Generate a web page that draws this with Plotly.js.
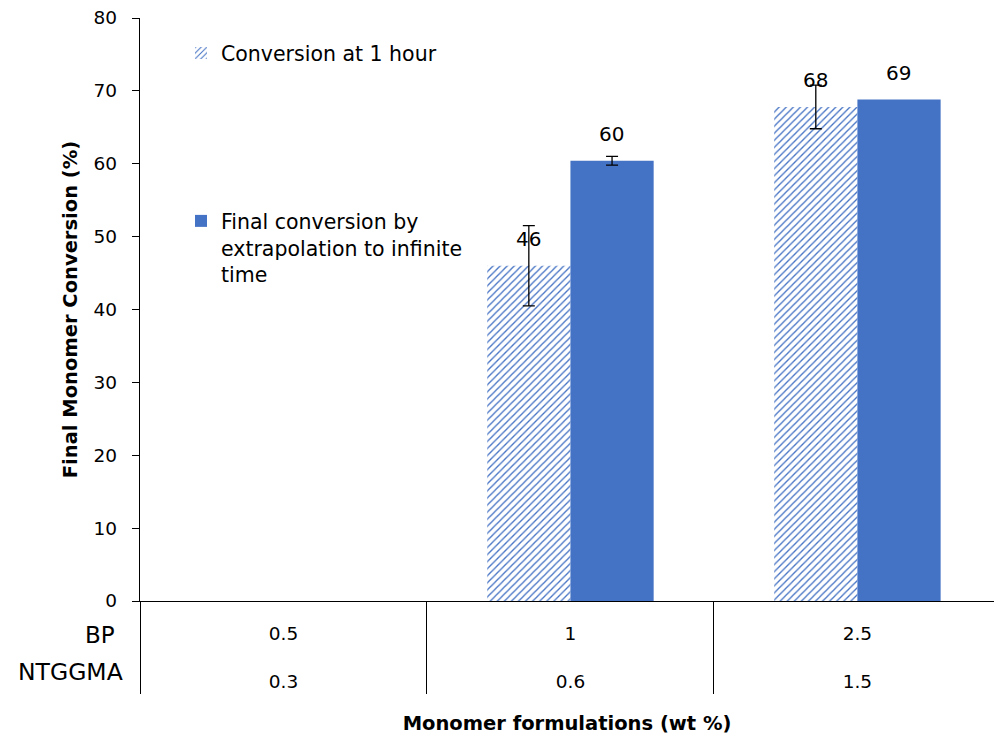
<!DOCTYPE html>
<html><head><meta charset="utf-8">
<script src="https://cdn.plot.ly/plotly-3.0.1.min.js"></script>
<style>html,body{margin:0;padding:0;overflow:hidden;background:#fff}</style>
</head><body><div id="chart" style="width:994px;height:738px"></div>
<script>
// ---- data ----
const categories = ['0.5 / 0.3', '1 / 0.6', '2.5 / 1.5'];
const bpLevels = ['0.5', '1', '2.5'];
const ntggmaLevels = ['0.3', '0.6', '1.5'];
const rowLabels = ['BP', 'NTGGMA'];
const conv1h = [null, 46, 67.8];
const conv1hErr = [null, 5.5, 3.0];
const convFinal = [null, 60.4, 68.8];
const convFinalErr = [null, 0.6, null];
const seriesNames = ['Conversion at 1 hour', 'Final conversion by<br>extrapolation to infinite<br>time'];
const yTicks = [0, 10, 20, 30, 40, 50, 60, 70, 80];

const FONT = '"DejaVu Sans", Verdana, sans-serif';
const BLUE = '#4472C4';

const tickText = categories.map((c, i) => bpLevels[i] + '<br><br>' + ntggmaLevels[i]);
// missing error values -> NaN so that no error bar is drawn
const errArr = a => a.map(v => (v === null ? NaN : v));

const traces = [
  {
    type: 'bar', x: categories, y: conv1h, name: seriesNames[0], legend: 'legend',
    marker: { color: BLUE, line: { width: 0 },
      pattern: { shape: '/', fgcolor: BLUE, bgcolor: 'white', size: 5, solidity: 0.26 } },
    error_y: { type: 'data', array: errArr(conv1hErr), visible: true, color: '#000', thickness: 1.3, width: 6 },
    hoverinfo: 'x+y'
  },
  {
    type: 'bar', x: categories, y: convFinal, name: seriesNames[1], legend: 'legend2',
    marker: { color: BLUE, line: { width: 0 } },
    error_y: { type: 'data', array: errArr(convFinalErr), visible: true, color: '#000', thickness: 1.3, width: 6 },
    hoverinfo: 'x+y'
  }
];

const annotations = [];
[[conv1h, -41.5], [convFinal, 41.5]].forEach(([vals, shift]) => {
  vals.forEach((v, i) => {
    if (v === null) return;
    annotations.push({ x: categories[i], y: v, xref: 'x', yref: 'y', text: String(Math.round(v)),
      showarrow: false, xshift: shift, yshift: 27, yanchor: 'middle',
      font: { family: FONT, size: 20, color: '#000' } });
  });
});
annotations.push({ xref: 'paper', yref: 'paper', x: -0.027, y: -0.058, xanchor: 'right', yanchor: 'middle',
  text: rowLabels[0], showarrow: false, font: { family: FONT, size: 23, color: '#000' } });
annotations.push({ xref: 'paper', yref: 'paper', x: -0.017, y: -0.122, xanchor: 'right', yanchor: 'middle',
  text: rowLabels[1], showarrow: false, font: { family: FONT, size: 23.5, color: '#000' } });

const layout = {
  width: 994, height: 738,
  margin: { l: 140, r: 0, t: 18, b: 137 },
  paper_bgcolor: '#fff', plot_bgcolor: '#fff',
  font: { family: FONT, color: '#000' },
  barmode: 'group', bargap: 0.42, bargroupgap: 0,
  xaxis: {
    type: 'category', range: [-0.5, 2.476],
    tickvals: categories, ticktext: tickText,
    tickson: 'boundaries', ticks: 'outside', ticklen: 92, tickcolor: '#000', tickwidth: 1.3,
    ticklabelstandoff: 16,
    tickfont: { family: FONT, size: 18.5, color: '#000' },
    showline: true, linecolor: '#000', linewidth: 1.3, showgrid: false, zeroline: false,
    title: { text: '<b>Monomer formulations (wt %)</b>', font: { family: FONT, size: 19.5, color: '#000' }, standoff: 24 },
    automargin: false
  },
  yaxis: {
    range: [0, 80], tickvals: yTicks, ticks: 'outside', ticklen: 7, tickcolor: '#000', tickwidth: 1.3,
    tickfont: { family: FONT, size: 18.5, color: '#000' }, ticklabelstandoff: 11,
    showline: true, linecolor: '#000', linewidth: 1.3, showgrid: false, zeroline: false,
    title: { text: '<b>Final Monomer Conversion (%)</b>', font: { family: FONT, size: 19.5, color: '#000' }, standoff: 10 },
    automargin: false
  },
  legend: { x: 0.048, y: 0.974, xanchor: 'left', yanchor: 'top', bgcolor: 'rgba(0,0,0,0)',
    font: { family: FONT, size: 20.5, color: '#000' } },
  legend2: { x: 0.048, y: 0.686, xanchor: 'left', yanchor: 'top', bgcolor: 'rgba(0,0,0,0)', valign: 'top',
    font: { family: FONT, size: 20.5, color: '#000' } },
  annotations: annotations,
  showlegend: true
};

Plotly.newPlot('chart', traces, layout, { displayModeBar: false, responsive: false });
</script></body></html>
